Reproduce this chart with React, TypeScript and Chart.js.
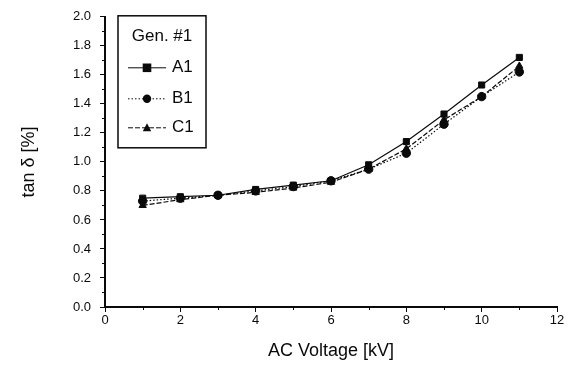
import React, { useEffect, useRef } from "react";
import { Chart, registerables } from "chart.js";

Chart.register(...registerables);

const voltages = [1, 2, 3, 4, 5, 6, 7, 8, 9, 10, 11];
const seriesA1 = [0.75, 0.76, 0.77, 0.81, 0.84, 0.87, 0.98, 1.14, 1.33, 1.53, 1.72];
const seriesB1 = [0.73, 0.75, 0.77, 0.80, 0.83, 0.87, 0.95, 1.06, 1.26, 1.45, 1.62];
const seriesC1 = [0.70, 0.74, 0.77, 0.79, 0.82, 0.86, 0.95, 1.09, 1.29, 1.45, 1.66];
const seriesNames = ["A1", "B1", "C1"];
const legendTitle = "Gen. #1";
const xTicks = [0, 2, 4, 6, 8, 10, 12];
const yTicks = [0, 0.2, 0.4, 0.6, 0.8, 1.0, 1.2, 1.4, 1.6, 1.8, 2.0];

const FONT = "'Liberation Sans', Arial, sans-serif";
const INK = "#0a0a0a";

const styles = [
  { point: "rect", radius: 4.3, dash: [] as number[] },
  { point: "circle", radius: 4.2, dash: [1.5, 2] },
  { point: "triangle", radius: 4.2, dash: [5, 2] },
];

const minorTicksPlugin = {
  id: "minorTicks",
  afterDraw(chart: any) {
    const ctx = chart.ctx;
    const xs = chart.scales.x;
    const ys = chart.scales.y;
    ctx.save();
    ctx.strokeStyle = INK;
    ctx.lineWidth = 1;
    ctx.beginPath();
    for (let v = 1; v < 12; v += 2) {
      const px = Math.round(xs.getPixelForValue(v)) + 0.5;
      ctx.moveTo(px, ys.bottom);
      ctx.lineTo(px, ys.bottom + 3);
    }
    for (let i = 1; i < 20; i += 2) {
      const py = Math.round(ys.getPixelForValue(i / 10)) + 0.5;
      ctx.moveTo(xs.left, py);
      ctx.lineTo(xs.left - 3, py);
    }
    ctx.stroke();
    ctx.restore();
  },
};

function drawMarker(ctx: CanvasRenderingContext2D, kind: string, x: number, y: number, r: number) {
  ctx.beginPath();
  if (kind === "rect") {
    ctx.rect(x - r, y - r, 2 * r, 2 * r);
  } else if (kind === "circle") {
    ctx.arc(x, y, r, 0, Math.PI * 2);
  } else {
    ctx.moveTo(x, y - r * 1.1);
    ctx.lineTo(x + r, y + r * 0.8);
    ctx.lineTo(x - r, y + r * 0.8);
    ctx.closePath();
  }
  ctx.fill();
}

const boxLegendPlugin = {
  id: "boxLegend",
  afterDraw(chart: any) {
    const ctx = chart.ctx as CanvasRenderingContext2D;
    const area = chart.chartArea;
    const left = area.left + 13;
    const top = area.top - 1;
    const w = 88;
    const h = 132;
    ctx.save();
    ctx.fillStyle = "#fff";
    ctx.fillRect(left, top, w, h);
    ctx.strokeStyle = INK;
    ctx.lineWidth = 1.5;
    ctx.strokeRect(left, top, w, h);
    ctx.fillStyle = INK;
    ctx.font = `17px ${FONT}`;
    ctx.textAlign = "center";
    ctx.textBaseline = "middle";
    ctx.fillText(legendTitle, left + w / 2, top + 21);
    const rows = [52, 83, 112];
    seriesNames.forEach((name, i) => {
      const yy = top + rows[i];
      const st = styles[i];
      ctx.strokeStyle = INK;
      ctx.lineWidth = 1;
      ctx.setLineDash(st.dash);
      ctx.beginPath();
      ctx.moveTo(left + 10, yy);
      ctx.lineTo(left + 48, yy);
      ctx.stroke();
      ctx.setLineDash([]);
      ctx.fillStyle = INK;
      drawMarker(ctx, st.point, left + 29, yy, st.radius);
      ctx.textAlign = "left";
      ctx.fillText(name, left + 54, yy);
    });
    ctx.restore();
  },
};

export default function App() {
  const ref = useRef<HTMLCanvasElement | null>(null);
  useEffect(() => {
    if (!ref.current) return;
    const mk = (vals: number[]) => vals.map((v, i) => ({ x: voltages[i], y: v }));
    const all = [seriesA1, seriesB1, seriesC1];
    const chart = new Chart(ref.current, {
      type: "line",
      data: {
        datasets: all.map((vals, i) => ({
          label: seriesNames[i],
          data: mk(vals),
          borderColor: INK,
          backgroundColor: INK,
          borderWidth: 1.2,
          borderDash: styles[i].dash,
          pointStyle: styles[i].point as any,
          pointRadius: styles[i].radius,
          pointBackgroundColor: INK,
          pointBorderColor: INK,
          pointBorderWidth: 1,
          tension: 0,
        })),
      },
      options: {
        animation: false,
        responsive: false,
        maintainAspectRatio: false,
        layout: { padding: { top: 16, right: 16, left: 0, bottom: 0 } },
        plugins: {
          legend: { display: false },
          tooltip: { enabled: false },
        },
        scales: {
          x: {
            type: "linear",
            min: 0,
            max: 12,
            afterBuildTicks: (s: any) => {
              s.ticks = xTicks.map((v) => ({ value: v }));
            },
            afterFit: (s: any) => {
              s.height = 58;
            },
            ticks: {
              color: INK,
              font: { family: FONT, size: 13 },
              padding: 1,
              maxRotation: 0,
            },
            grid: {
              drawOnChartArea: false,
              drawTicks: true,
              tickLength: 5,
              color: INK,
              lineWidth: 1,
            },
            border: { display: true, color: INK, width: 2 },
            title: {
              display: true,
              text: "AC Voltage [kV]",
              color: INK,
              font: { family: FONT, size: 18 },
              padding: { top: 0, bottom: 3 },
            },
          },
          y: {
            type: "linear",
            min: 0,
            max: 2,
            afterBuildTicks: (s: any) => {
              s.ticks = yTicks.map((v) => ({ value: v }));
            },
            afterFit: (s: any) => {
              s.width = 105;
            },
            ticks: {
              color: INK,
              font: { family: FONT, size: 13 },
              padding: 9,
              callback: (v: any) => Number(v).toFixed(1),
            },
            grid: {
              drawOnChartArea: false,
              drawTicks: true,
              tickLength: 5,
              color: INK,
              lineWidth: 1,
            },
            border: { display: true, color: INK, width: 2 },
            title: {
              display: true,
              text: "tan δ [%]",
              color: INK,
              font: { family: FONT, size: 18 },
              padding: { top: 18, bottom: 0 },
            },
          },
        },
      },
      plugins: [minorTicksPlugin, boxLegendPlugin],
    });
    return () => chart.destroy();
  }, []);
  return (
    <div style={{ position: "fixed", left: 0, top: 0, width: 573, height: 365, background: "#fff" }}>
      <canvas ref={ref} width={573} height={365} style={{ width: 573, height: 365 }} />
    </div>
  );
}
